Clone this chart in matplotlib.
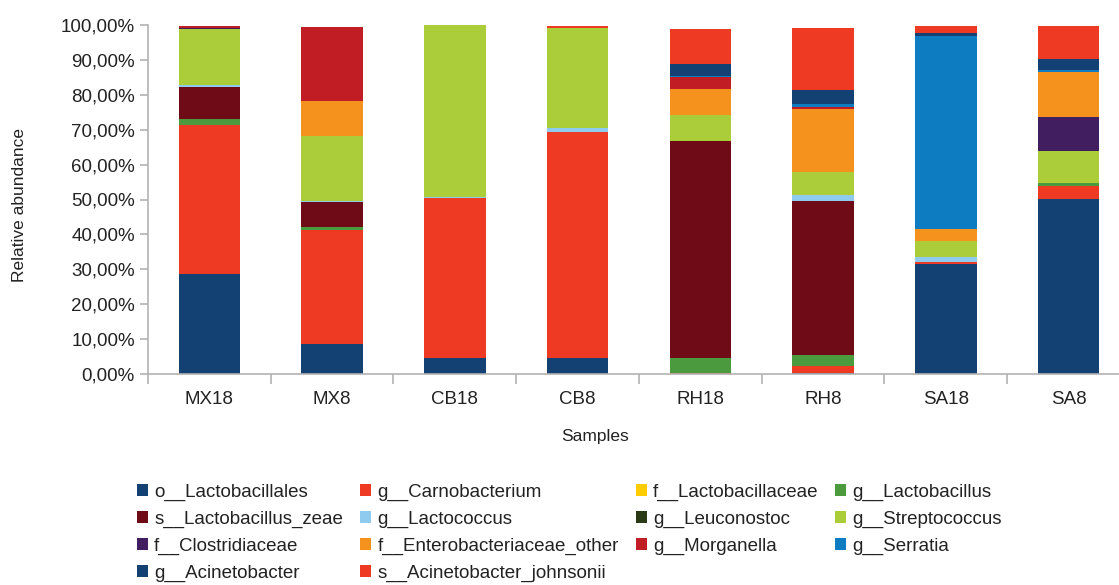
import numpy as np
import matplotlib
matplotlib.use("Agg")
import matplotlib.pyplot as plt
from matplotlib.patches import Patch
from matplotlib.ticker import FuncFormatter, FixedLocator

plt.rcParams['font.family'] = ['Liberation Sans', 'DejaVu Sans']

samples = ["MX18", "MX8", "CB18", "CB8", "RH18", "RH8", "SA18", "SA8"]

# Relative abundance (%) per taxon, one value per sample
o_lactobacillales = [28.6, 8.6, 4.5, 4.5, 0.0, 0.3, 31.5, 50.1]
g_carnobacterium = [42.7, 32.7, 45.8, 64.9, 0.3, 2.0, 0.7, 3.8]
f_lactobacillaceae = [0, 0, 0, 0, 0, 0, 0, 0]
g_lactobacillus = [1.9, 0.7, 0, 0, 4.4, 3.1, 0, 0.7]
s_lactobacillus_zeae = [9.1, 7.4, 0, 0, 62.1, 44.3, 0, 0]
g_lactococcus = [0.5, 0.2, 0.3, 1.0, 0, 1.6, 1.4, 0]
g_leuconostoc = [0, 0, 0, 0, 0, 0, 0, 0]
g_streptococcus = [16.0, 18.6, 49.3, 28.6, 7.3, 6.5, 4.5, 9.4]
f_clostridiaceae = [0.2, 0, 0, 0, 0, 0, 0, 9.7]
f_enterobacteriaceae_other = [0, 10.0, 0, 0, 7.7, 18.0, 3.4, 12.7]
g_morganella = [0.8, 21.2, 0, 0, 3.4, 0.8, 0, 0]
g_serratia = [0, 0, 0, 0, 0.3, 0.8, 55.4, 0.7]
g_acinetobacter = [0, 0, 0, 0, 3.3, 4.0, 0.9, 3.1]
s_acinetobacter_johnsonii = [0, 0, 0, 0.7, 10.1, 17.7, 2.0, 9.4]

series = [
    ("o__Lactobacillales", o_lactobacillales, "#134174"),
    ("g__Carnobacterium", g_carnobacterium, "#ee3a23"),
    ("f__Lactobacillaceae", f_lactobacillaceae, "#ffcc00"),
    ("g__Lactobacillus", g_lactobacillus, "#4c9a3e"),
    ("s__Lactobacillus_zeae", s_lactobacillus_zeae, "#6e0b17"),
    ("g__Lactococcus", g_lactococcus, "#8ecbee"),
    ("g__Leuconostoc", g_leuconostoc, "#2a3a14"),
    ("g__Streptococcus", g_streptococcus, "#abcd3a"),
    ("f__Clostridiaceae", f_clostridiaceae, "#401e5f"),
    ("f__Enterobacteriaceae_other", f_enterobacteriaceae_other, "#f5921e"),
    ("g__Morganella", g_morganella, "#c11d25"),
    ("g__Serratia", g_serratia, "#0d7cc1"),
    ("g__Acinetobacter", g_acinetobacter, "#134174"),
    ("s__Acinetobacter_johnsonii", s_acinetobacter_johnsonii, "#ee3a23"),
]

W, H = 1119, 585
fig = plt.figure(figsize=(W / 100, H / 100), dpi=100)
ax_left, ax_right, ax_top, ax_bot = 148, 1130, 25, 374
ax = fig.add_axes([ax_left / W, 1 - ax_bot / H, (ax_right - ax_left) / W, (ax_bot - ax_top) / H])

x = np.arange(len(samples))
bottom = np.zeros(len(samples))
for name, vals, color in series:
    v = np.array(vals, dtype=float)
    ax.bar(x, v, width=0.5, bottom=bottom, color=color, linewidth=0)
    bottom += v

ax.set_xlim(-0.5, len(samples) - 0.5)
ax.set_ylim(0, 100)

grey = "#b3b3b3"
text_color = "#222222"
for s in ("top", "right"):
    ax.spines[s].set_visible(False)
for s in ("left", "bottom"):
    ax.spines[s].set_color(grey)
    ax.spines[s].set_linewidth(1.2)

ax.set_yticks(np.arange(0, 101, 10))
ax.yaxis.set_major_formatter(FuncFormatter(lambda v, p: f"{v:.2f}%".replace(".", ",")))
ax.tick_params(axis="y", length=5.5, width=1.2, color=grey, pad=4,
               labelsize=13.5, labelcolor=text_color)

ax.set_xticks(x)
ax.set_xticklabels(samples)
ax.xaxis.set_minor_locator(FixedLocator(np.arange(-0.5, len(samples), 1.0)))
ax.tick_params(axis="x", which="major", length=0, pad=12,
               labelsize=13.5, labelcolor=text_color)
ax.tick_params(axis="x", which="minor", length=7, width=1.2, color=grey)

fig.text(595 / W, 1 - 437 / H, "Samples", ha="center", va="center",
         fontsize=12.5, color=text_color)
fig.text(20 / W, 1 - 205 / H, "Relative abundance", ha="center", va="center",
         rotation=90, fontsize=12.5, color=text_color)

# Legend reads row by row across 4 columns; matplotlib fills column by column
ncol = 4
handles = [Patch(facecolor=c, edgecolor="none", label=n) for n, _, c in series]
order = [i for col in range(ncol) for i in range(col, len(handles), ncol)]
fig.legend(handles=[handles[i] for i in order], ncol=ncol, loc="upper left",
           bbox_to_anchor=(137 / W, 1 - 484 / H), frameon=False,
           fontsize=13.5, handlelength=0.6, handleheight=0.6,
           handletextpad=0.32, columnspacing=0.9, labelspacing=0.52,
           borderpad=0, borderaxespad=0, labelcolor=text_color)

fig.savefig("out.png", dpi=100)
